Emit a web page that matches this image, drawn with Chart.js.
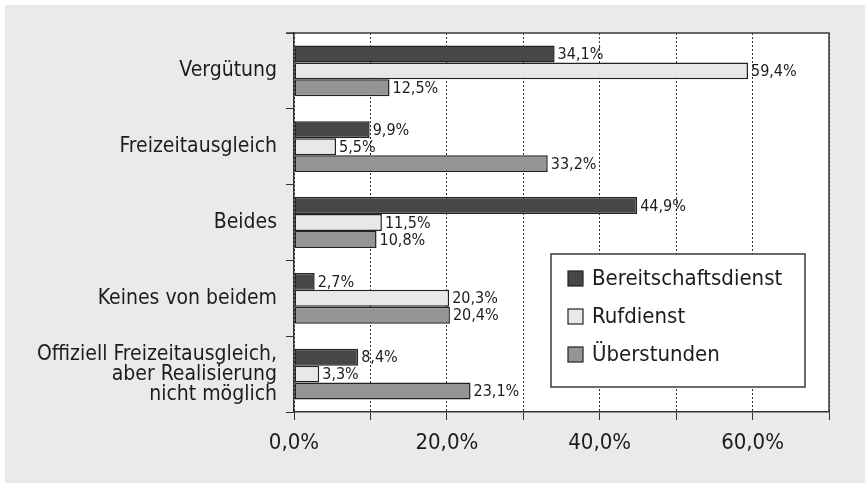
<!DOCTYPE html>
<html>
<head>
<meta charset="utf-8">
<script src="https://cdn.jsdelivr.net/npm/chart.js@4"></script>
<style>
  html, body { margin: 0; padding: 0; background: #ffffff; }
  #wrap { width: 865px; height: 483px; }
</style>
</head>
<body>
<div id="wrap"><canvas id="surveyChart" width="865" height="483"></canvas></div>
<script>
var categories = [
  "Vergütung",
  "Freizeitausgleich",
  "Beides",
  "Keines von beidem",
  ["Offiziell Freizeitausgleich,", "aber Realisierung", "nicht möglich"]
];
var bereitschaftsdienst = [34.1, 9.9, 44.9, 2.7, 8.4];
var rufdienst = [59.4, 5.5, 11.5, 20.3, 3.3];
var ueberstunden = [12.5, 33.2, 10.8, 20.4, 23.1];
var xTickValues = [0, 20, 40, 60];
var xTickLabels = ["0,0%", "20,0%", "40,0%", "60,0%"];

var FONT = "'Liberation Sans Narrow', 'DejaVu Sans Condensed', sans-serif";
var INK = "#1c1c1c";

Chart.defaults.font.family = FONT;
Chart.defaults.color = INK;

function pct(v) {
  return v.toFixed(1).replace(".", ",") + "%";
}

// gray page + white plot area
var backdrop = {
  id: "backdrop",
  beforeDraw: function (chart) {
    var ctx = chart.ctx, a = chart.chartArea;
    ctx.save();
    ctx.fillStyle = "#e9eaec";
    ctx.fillRect(5, 5, chart.width - 5, chart.height - 5);
    ctx.fillStyle = "#ffffff";
    ctx.fillRect(a.left, a.top, a.right - a.left, a.bottom - a.top);
    ctx.restore();
  }
};

// top and right edges of the plot frame
var frame = {
  id: "frame",
  afterDraw: function (chart) {
    var ctx = chart.ctx, a = chart.chartArea;
    ctx.save();
    ctx.strokeStyle = "#3a3a3a";
    ctx.lineWidth = 1.5;
    ctx.beginPath();
    ctx.moveTo(a.left - 8, a.top);
    ctx.lineTo(a.right, a.top);
    ctx.lineTo(a.right, a.bottom);
    ctx.stroke();
    ctx.restore();
  }
};

// value labels at the bar ends
var valueLabels = {
  id: "valueLabels",
  afterDatasetsDraw: function (chart) {
    var ctx = chart.ctx;
    ctx.save();
    ctx.font = "16px " + FONT;
    ctx.fillStyle = INK;
    ctx.textAlign = "left";
    ctx.textBaseline = "middle";
    chart.data.datasets.forEach(function (ds, i) {
      chart.getDatasetMeta(i).data.forEach(function (bar, j) {
        ctx.fillText(pct(ds.data[j]), bar.x + 3, bar.y + 1);
      });
    });
    ctx.restore();
  }
};

// boxed legend inside the plot
var boxLegend = {
  id: "boxLegend",
  afterDraw: function (chart) {
    var ctx = chart.ctx;
    var x = 551, y = 254, w = 254, h = 133;
    ctx.save();
    ctx.fillStyle = "#ffffff";
    ctx.fillRect(x, y, w, h);
    ctx.strokeStyle = "#3a3a3a";
    ctx.lineWidth = 1.5;
    ctx.strokeRect(x, y, w, h);
    ctx.font = "22px " + FONT;
    ctx.textBaseline = "middle";
    chart.data.datasets.forEach(function (ds, i) {
      var cy = y + 24 + i * 38;
      ctx.fillStyle = ds.backgroundColor;
      ctx.fillRect(x + 17, cy - 7, 15, 15);
      ctx.strokeStyle = "#222";
      ctx.lineWidth = 1.2;
      ctx.strokeRect(x + 17, cy - 7, 15, 15);
      ctx.fillStyle = INK;
      ctx.fillText(ds.label, x + 41, cy + 1);
    });
    ctx.restore();
  }
};

var barStyle = {
  borderColor: "#222222",
  borderWidth: 1.5,
  borderSkipped: false,
  categoryPercentage: 0.67,
  barPercentage: 1.0
};

new Chart(document.getElementById("surveyChart"), {
  type: "bar",
  data: {
    labels: categories,
    datasets: [
      Object.assign({ label: "Bereitschaftsdienst", data: bereitschaftsdienst, backgroundColor: "#474747" }, barStyle),
      Object.assign({ label: "Rufdienst", data: rufdienst, backgroundColor: "#e8e8e8" }, barStyle),
      Object.assign({ label: "Überstunden", data: ueberstunden, backgroundColor: "#959595" }, barStyle)
    ]
  },
  options: {
    indexAxis: "y",
    responsive: false,
    animation: false,
    layout: { padding: { top: 33, right: 36, bottom: 0, left: 0 } },
    plugins: {
      legend: { display: false },
      tooltip: { enabled: false }
    },
    scales: {
      x: {
        min: 0,
        max: 70,
        afterFit: function (s) { s.height = 71; },
        afterBuildTicks: function (s) {
          s.ticks = [0, 10, 20, 30, 40, 50, 60, 70].map(function (v) { return { value: v }; });
        },
        ticks: {
          autoSkip: false,
          maxRotation: 0,
          padding: 10,
          color: INK,
          font: { size: 22 },
          callback: function (v) {
            var k = xTickValues.indexOf(v);
            return k >= 0 ? xTickLabels[k] : "";
          }
        },
        grid: {
          color: "#333333",
          lineWidth: 1,
          tickLength: 8,
          tickColor: "#333333",
          tickBorderDash: []
        },
        border: { color: "#333333", width: 1.5, dash: [2, 2] }
      },
      y: {
        afterFit: function (s) {
          s.width = 294;
          s.paddingTop = 0;
          s.paddingBottom = 0;
        },
        ticks: {
          padding: 9,
          color: INK,
          font: { size: 21, lineHeight: 0.95 }
        },
        grid: {
          drawOnChartArea: false,
          tickLength: 8,
          tickColor: "#333333"
        },
        border: { color: "#333333", width: 1.5 }
      }
    }
  },
  plugins: [backdrop, valueLabels, frame, boxLegend]
});
</script>
</body>
</html>
